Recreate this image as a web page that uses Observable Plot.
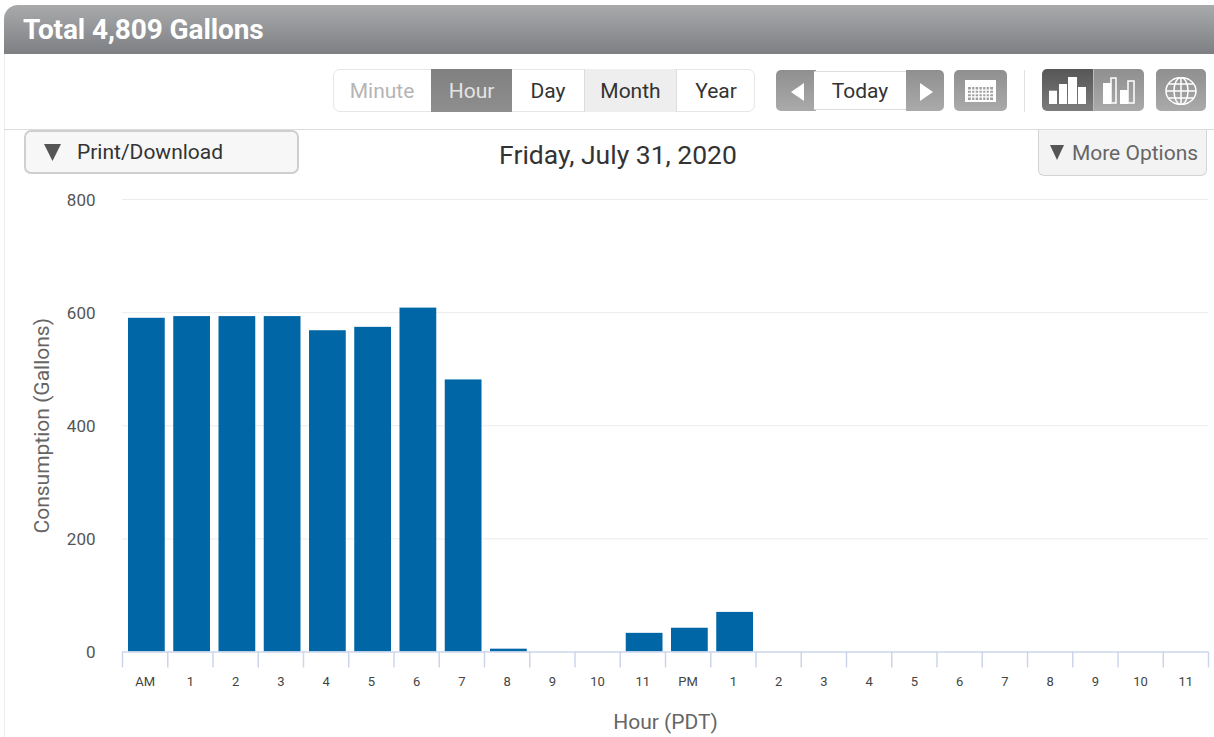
<!DOCTYPE html>
<html>
<head>
<meta charset="utf-8">
<script src="https://cdn.jsdelivr.net/npm/d3@7"></script>
<script src="https://cdn.jsdelivr.net/npm/@observablehq/plot@0.6"></script>
<style>
html,body{margin:0;padding:0;background:#fff;overflow:hidden}
body{width:1214px;height:737px;position:relative;font-family:Roboto,sans-serif;color:#333}
#chart{position:absolute;left:0;top:0}
.ui{position:absolute;box-sizing:border-box;display:flex;align-items:center;justify-content:center;white-space:nowrap}
.g{background:linear-gradient(#8f8f8f,#aaaaaa)}
svg.i{display:block;position:absolute}
</style>
</head>
<body>
<div id="chart"></div>
<div class="ui" style="left:4px;top:5px;width:1210px;height:49px;background:linear-gradient(#a9aaac,#7e7f82);border-top-left-radius:14px;justify-content:flex-start;padding-left:19px;color:#fff;font-weight:700;font-size:28px;letter-spacing:-.1px">Total 4,809 Gallons</div>
<div class="ui" style="left:4px;top:54px;width:1px;height:683px;background:#ececec"></div>
<div class="ui" style="left:4px;top:129px;width:1210px;height:1px;background:#dcdcdc"></div>

<div class="ui" style="left:333px;top:69px;width:422px;height:43px;border:1px solid #e6e6e6;border-radius:7px"></div>
<div class="ui" style="left:333px;top:69px;width:98px;height:43px;color:#b5b5b5;font-size:21px">Minute</div>
<div class="ui" style="left:431px;top:69px;width:81px;height:43px;color:#e4e4e4;font-size:21px;background:linear-gradient(#808080,#8e8e8e)">Hour</div>
<div class="ui" style="left:512px;top:69px;width:72px;height:43px;font-size:21px">Day</div>
<div class="ui" style="left:584px;top:69px;width:93px;height:43px;font-size:21px;background:#eeeeee;border-left:1px solid #ddd;border-right:1px solid #ddd">Month</div>
<div class="ui" style="left:677px;top:69px;width:78px;height:43px;font-size:21px">Year</div>

<div class="ui g" style="left:776px;top:70px;width:40px;height:41px;border-radius:5px 0 0 5px"><svg class="i" style="left:15px;top:13px" width="13" height="18"><polygon points="13,0 13,18 0,9" fill="#fff"/></svg></div>
<div class="ui" style="left:814px;top:71px;width:92px;height:39px;font-size:21px;border-top:1px solid #ddd;border-bottom:1px solid #ddd;background:#fff">Today</div>
<div class="ui g" style="left:906px;top:70px;width:38px;height:41px;border-radius:0 5px 5px 0"><svg class="i" style="left:14px;top:13px" width="13" height="18"><polygon points="0,0 0,18 13,9" fill="#fff"/></svg></div>
<div class="ui g" style="left:954px;top:70px;width:53px;height:41px;border-radius:5px"><svg class="i" style="left:11px;top:10px" width="31" height="22"><rect width="31" height="22" fill="#fff"/><rect x="3" y="7" width="25" height="13" fill="#a0a0a0"/><g stroke="#fff" stroke-width="1.3"><path d="M3 10.2H28M3 13.5H28M3 16.8H28M6.5 7V20M10 7V20M13.8 7V20M17.5 7V20M21 7V20M24.5 7V20"/></g></svg></div>
<div class="ui" style="left:1024px;top:70px;width:1px;height:42px;background:#e2e2e2"></div>

<div class="ui" style="left:1042px;top:69px;width:51px;height:42px;border-radius:5px 0 0 5px;background:linear-gradient(#565656,#7c7c7c)"><svg class="i" style="left:7px;top:8px" width="37" height="27"><g fill="#fff"><rect x="0" y="13.7" width="8" height="13.3"/><rect x="10" y="7" width="8" height="20"/><rect x="19" y="0" width="9" height="27"/><rect x="29" y="10" width="8" height="17"/></g></svg></div>
<div class="ui g" style="left:1093px;top:69px;width:51px;height:42px;border-radius:0 5px 5px 0;border-left:1px solid #bbb"><svg class="i" style="left:9px;top:8px" width="32" height="27"><rect x="0" y="6" width="8" height="21" fill="#fff"/><rect x="17" y="13" width="8" height="14" fill="#fff"/><g fill="none" stroke="#fff" stroke-width="1.5"><rect x="8" y="1" width="5" height="25"/><rect x="25" y="4" width="6" height="22"/></g></svg></div>
<div class="ui g" style="left:1156px;top:69px;width:50px;height:42px;border-radius:5px"><svg class="i" style="left:9px;top:8px" width="32" height="28" viewBox="0 0 32 28"><g fill="none" stroke="#fff" stroke-width="1.5"><ellipse cx="16" cy="14" rx="15" ry="13.5"/><ellipse cx="16" cy="14" rx="7" ry="13.5"/><path d="M16 .5V27.5M1 14H31M3.5 7H28.5M3.5 21H28.5"/></g></svg></div>

<div class="ui" style="left:24px;top:130px;width:275px;height:44px;background:#f7f7f7;border:2px solid #cfcfcf;border-radius:7px;justify-content:flex-start;padding-left:18px;font-size:21px"><svg width="17" height="17" style="margin-right:16px;display:block"><polygon points="0,0 17,0 8.5,17" fill="#555"/></svg>Print/Download</div>
<div class="ui" style="left:418px;top:134px;width:400px;height:40px;font-size:26.5px">Friday, July 31, 2020</div>
<div class="ui" style="left:1038px;top:130px;width:169px;height:46px;background:#f3f3f3;border:1px solid #d4d4d4;border-top:none;border-radius:0 0 6px 6px;color:#666;font-size:21px;padding-left:3px"><svg width="14" height="15" style="margin-right:8px;display:block"><polygon points="0,0 14,0 7,15" fill="#555"/></svg>More Options</div>

<script>
const hourLabels = ["AM","1","2","3","4","5","6","7","8","9","10","11","PM","1","2","3","4","5","6","7","8","9","10","11"];
const gallons = [590,593,593,593,568,574,608,481,5,0,0,33,42,70,0,0,0,0,0,0,0,0,0,0];
const yTicks = [0,200,400,600,800];
const yTitle = "Consumption (Gallons)";
const xTitle = "Hour (PDT)";

const rows = gallons.map((v,i)=>({i,v}));
const edges = d3.range(0,25);
const centers = hourLabels.map((_,i)=>i+0.5);
const axisColor = "#ccd6eb";

const plot = Plot.plot({
  width:1214, height:737,
  marginLeft:122, marginRight:6, marginTop:199, marginBottom:85.5,
  style:{background:"transparent",fontFamily:"Roboto, sans-serif"},
  x:{domain:[0,24],axis:null},
  y:{domain:[0,800],axis:null},
  marks:[
    Plot.ruleY(yTicks.slice(1),{y:d=>d,stroke:"#ececec",strokeWidth:1}),
    Plot.rectY(rows,{x1:d=>d.i,x2:d=>d.i+1,y1:0,y2:"v",fill:"#0066a6",insetLeft:6,insetRight:2.5}),
    Plot.ruleY([0],{stroke:axisColor,strokeWidth:1.5}),
    Plot.ruleX(edges,{x:d=>d,y1:0,y2:0,insetBottom:-16,stroke:axisColor,strokeWidth:1.5}),
    Plot.text(yTicks,{y:d=>d,frameAnchor:"left",dx:-27,dy:1,textAnchor:"end",text:d=>String(d),fontSize:17,fill:"#555"}),
    Plot.text(centers,{x:d=>d,frameAnchor:"bottom",dy:33.5,text:(d,i)=>hourLabels[i],fontSize:13,fill:"#444"}),
    Plot.text([yTitle],{frameAnchor:"left",textAnchor:"middle",rotate:-90,dx:-80,text:d=>d,fontSize:21,fill:"#666"}),
    Plot.text([xTitle],{frameAnchor:"bottom",dy:77,text:d=>d,fontSize:21,fill:"#666"})
  ]
});
document.getElementById("chart").appendChild(plot);
</script>
</body>
</html>
